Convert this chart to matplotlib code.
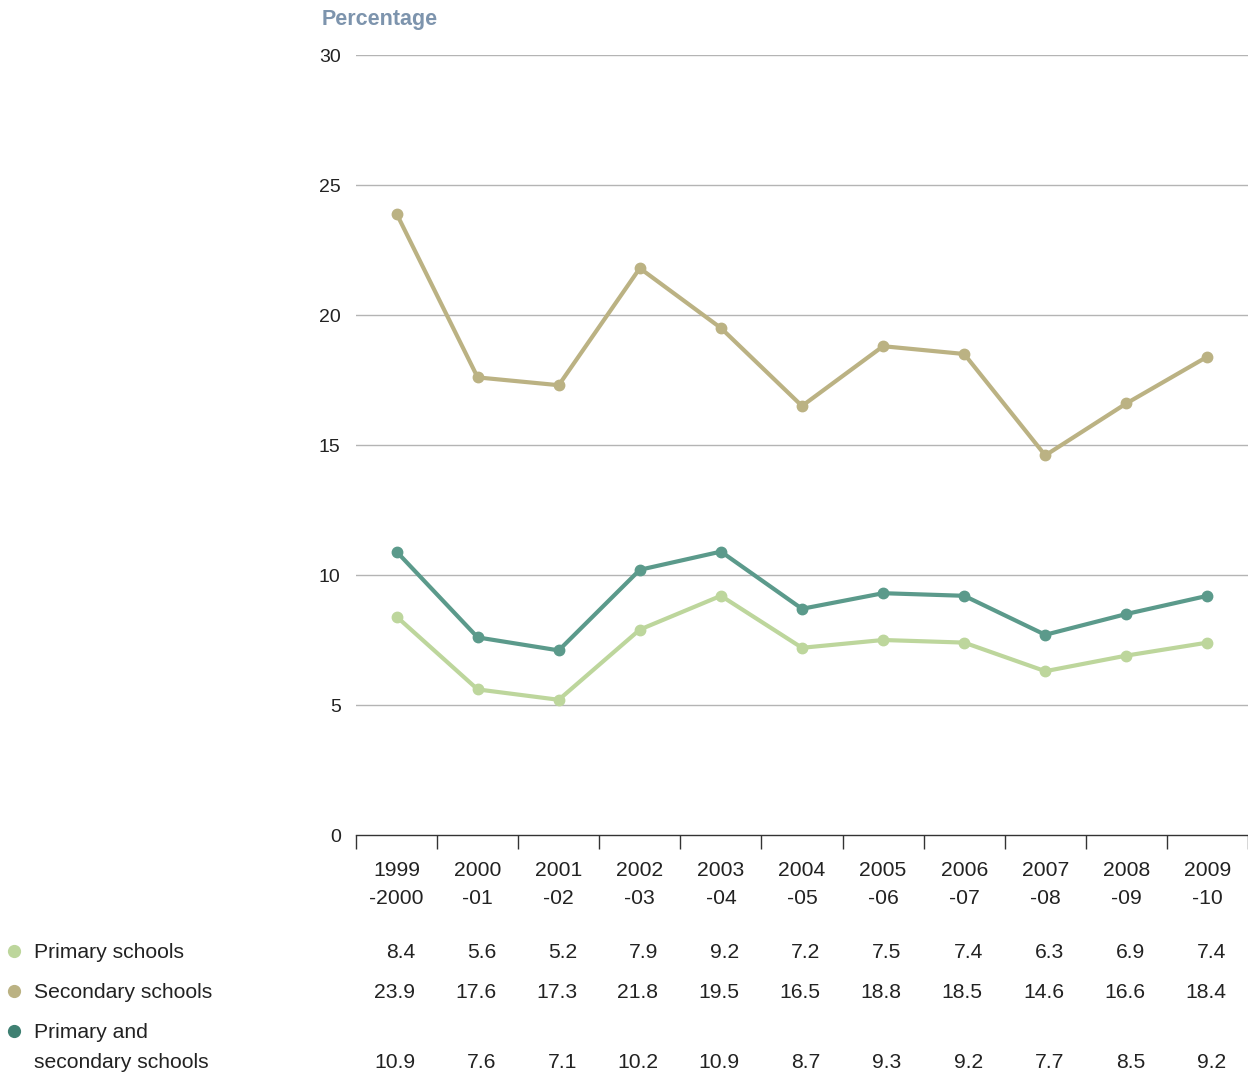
import matplotlib.pyplot as plt
import numpy as np

plt.rcParams['font.family'] = ['Liberation Sans', 'DejaVu Sans']

years_top = ['1999', '2000', '2001', '2002', '2003', '2004', '2005', '2006', '2007', '2008', '2009']
years_bottom = ['-2000', '-01', '-02', '-03', '-04', '-05', '-06', '-07', '-08', '-09', '-10']

primary = [8.4, 5.6, 5.2, 7.9, 9.2, 7.2, 7.5, 7.4, 6.3, 6.9, 7.4]
secondary = [23.9, 17.6, 17.3, 21.8, 19.5, 16.5, 18.8, 18.5, 14.6, 16.6, 18.4]
combined = [10.9, 7.6, 7.1, 10.2, 10.9, 8.7, 9.3, 9.2, 7.7, 8.5, 9.2]

series_names = [['Primary schools'], ['Secondary schools'], ['Primary and', 'secondary schools']]
line_colors = ['#bdd69c', '#bbb283', '#5b9a8b']
dot_colors = ['#bdd69c', '#bbb283', '#3f8072']

FS = 15.2
W, H = 1248, 1074

fig = plt.figure(figsize=(W / 100, H / 100), dpi=100)
ax = fig.add_axes([356 / W, 1 - 835 / H, 1 - 356 / W, 780 / H])

x = np.arange(len(years_top))
for vals, col in zip([secondary, combined, primary], [line_colors[1], line_colors[2], line_colors[0]]):
    ax.plot(x, vals, color=col, lw=3, marker='o', ms=7.5, solid_joinstyle='round')

ax.set_xlim(-0.5, len(x) - 0.5)
ax.set_ylim(0, 30)
ax.set_yticks([0, 5, 10, 15, 20, 25, 30])
for yv in [5, 10, 15, 20, 25, 30]:
    ax.axhline(yv, color='#b4b4b4', lw=1, zorder=0)
ax.tick_params(axis='y', length=0, pad=11, labelsize=14, labelcolor='#222222')

ax.set_xticks(np.arange(len(x) + 1) - 0.5)
ax.set_xticklabels([])
ax.tick_params(axis='x', length=10, width=1, color='#333333', direction='out')

for s in ['top', 'right', 'left']:
    ax.spines[s].set_visible(False)
ax.spines['bottom'].set_color('#333333')
ax.spines['bottom'].set_linewidth(1)

trans = ax.get_xaxis_transform()
for i in range(len(x)):
    ax.text(i, (835 - 870) / 780, years_top[i], transform=trans, ha='center', va='center',
            fontsize=FS, color='#222222')
    ax.text(i, (835 - 899) / 780, years_bottom[i], transform=trans, ha='center', va='center',
            fontsize=FS, color='#222222')

# table rows
row_y = [952, 992, 1062]
table_vals = [primary, secondary, combined]
for vals, yp in zip(table_vals, row_y):
    yfrac = (835 - yp) / 780
    for i, v in enumerate(vals):
        ax.text(i + 0.23, yfrac, f'{v:.1f}', transform=trans, ha='right', va='center',
                fontsize=FS, color='#222222', clip_on=False)

# legend labels
label_y = [952, 992, 1032]
for lines, col, yp in zip(series_names, dot_colors, label_y):
    fig.lines.append(plt.Line2D([14 / W], [1 - (yp - 1) / H], transform=fig.transFigure, marker='o',
                                ms=8.5, color=col, lw=0))
    for k, line in enumerate(lines):
        fig.text(34 / W, 1 - (yp + 30 * k) / H, line, fontsize=FS, color='#222222',
                 ha='left', va='center')

fig.text(322 / W, 1 - 20 / H, 'Percentage', fontsize=15.5, fontweight='bold', color='#7d94ad',
         ha='left', va='center')

fig.savefig('out.png', dpi=100)
